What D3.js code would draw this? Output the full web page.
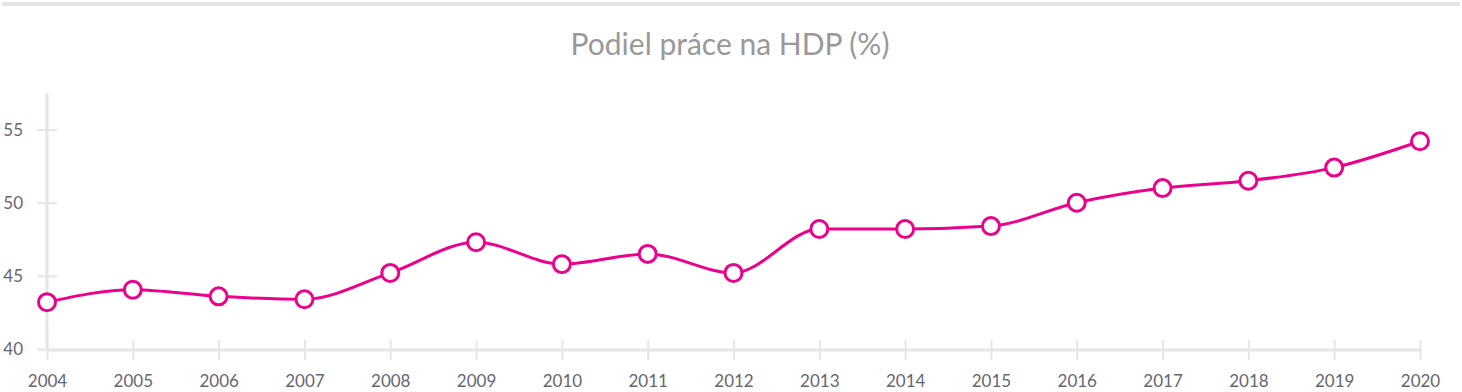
<!DOCTYPE html>
<html><head><meta charset="utf-8">
<script src="https://cdn.jsdelivr.net/npm/d3@7"></script>
<style>html,body{margin:0;padding:0;background:#fff;}svg{display:block;}</style>
</head><body>
<svg id="chart" width="1462" height="392"></svg>
<script>
const title = "Podiel práce na HDP (%)";
const years = ["2004","2005","2006","2007","2008","2009","2010","2011","2012","2013","2014","2015","2016","2017","2018","2019","2020"];
const values = [43.2,44.05,43.6,43.4,45.2,47.3,45.8,46.5,45.2,48.2,48.2,48.4,50.0,51.0,51.5,52.4,54.2];
const yTicks = [40,45,50,55];

(function(){
const svg = d3.select("#chart");
const W = 1462, H = 392;
const mLeft = 47, mRight = 1420, mTop = 93, mBottom = 349;
const pink = "#ec008c", grid = "#e6e6e6", txt = "#66666f";

svg.append("rect").attr("x",2).attr("y",2).attr("width",W-4).attr("height",4).attr("fill","#e4e4e4");
svg.append("text").attr("x",730).attr("y",55).attr("text-anchor","middle")
  .attr("font-family","Lato, sans-serif").attr("font-size",30).attr("fill","#999999").text(title);

const x = d3.scalePoint().domain(years).range([mLeft,mRight]);
const y = d3.scaleLinear().domain([40,57.5]).range([mBottom,mTop]);

const ya = svg.append("g").attr("transform",`translate(${mLeft},0)`)
  .call(d3.axisLeft(y).tickValues(yTicks).tickSize(10).tickPadding(14));
ya.select(".domain").attr("stroke",grid).attr("stroke-width",3).attr("d",`M0,${y(57.5)}V${mBottom+1}`);
ya.selectAll(".tick line").attr("stroke",grid).attr("stroke-width",2).attr("x1",-10).attr("x2",10);
ya.selectAll(".tick text").attr("font-family","Lato, sans-serif").attr("font-size",17).attr("fill",txt);

const xa = svg.append("g").attr("transform",`translate(0,${mBottom+1})`)
  .call(d3.axisBottom(x).tickSize(10).tickPadding(15));
xa.select(".domain").attr("stroke",grid).attr("stroke-width",3).attr("d",`M${mLeft},0H${mRight}`);
xa.selectAll(".tick line").attr("stroke",grid).attr("stroke-width",2).attr("y1",-10).attr("y2",10);
xa.selectAll(".tick text").attr("font-family","Lato, sans-serif").attr("font-size",17).attr("fill",txt);

const data = years.map((yr,i)=>({yr, v: values[i]}));
const line = d3.line().x(d=>x(d.yr)).y(d=>y(d.v)).curve(d3.curveMonotoneX);
svg.append("path").datum(data).attr("d",line).attr("fill","none").attr("stroke",pink).attr("stroke-width",3);
svg.selectAll("circle.pt").data(data).enter().append("circle").attr("class","pt")
  .attr("cx",d=>x(d.yr)).attr("cy",d=>y(d.v)).attr("r",8.5)
  .attr("fill","#fff").attr("stroke",pink).attr("stroke-width",3);
})();
</script>
</body></html>
